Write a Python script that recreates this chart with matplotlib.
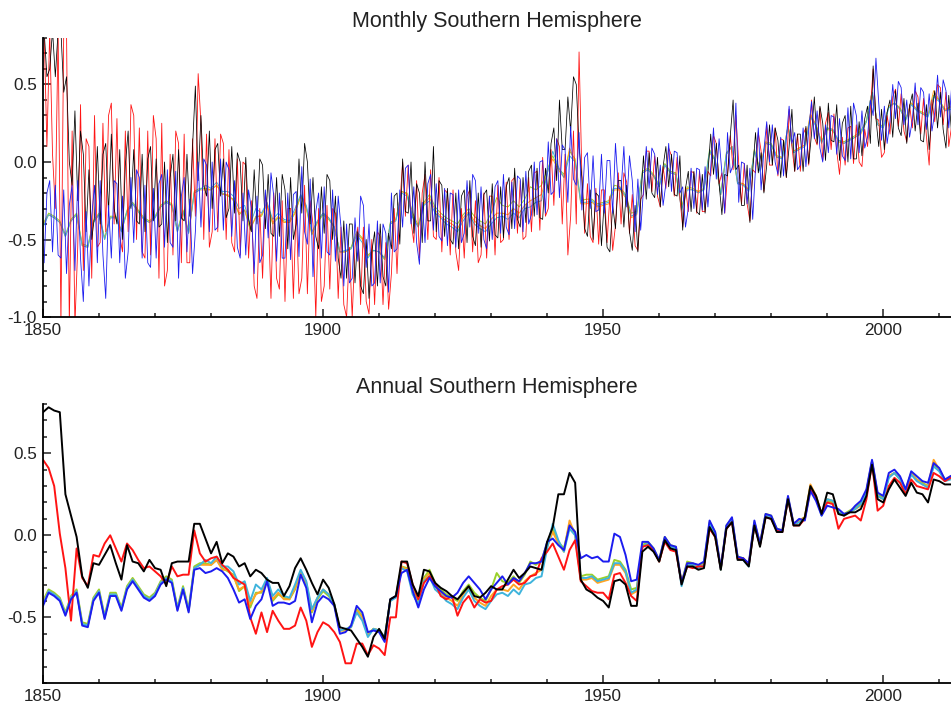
import numpy as np
import matplotlib
matplotlib.use("Agg")
import matplotlib.pyplot as plt
from matplotlib.ticker import MultipleLocator

plt.rcParams['font.family'] = ['Liberation Sans', 'DejaVu Sans']

years = list(range(1850, 2013))

# ---------------- Annual series (bottom panel) ----------------
black_annual = [
    0.75, 0.78, 0.76, 0.75, 0.25, 0.12, -0.01, -0.25, -0.32, -0.17,
    -0.18, -0.12, -0.06, -0.17, -0.27, -0.06, -0.16, -0.17, -0.22, -0.15,
    -0.20, -0.21, -0.31, -0.17, -0.16, -0.16, -0.16, 0.07, 0.07, -0.02,
    -0.11, -0.04, -0.17, -0.11, -0.13, -0.19, -0.17, -0.25, -0.21, -0.23,
    -0.27, -0.29, -0.29, -0.37, -0.31, -0.20, -0.14, -0.21, -0.29, -0.36,
    -0.27, -0.32, -0.42, -0.56, -0.57, -0.58, -0.63, -0.68, -0.74, -0.62,
    -0.57, -0.63, -0.39, -0.37, -0.16, -0.16, -0.30, -0.37, -0.21, -0.22,
    -0.29, -0.32, -0.34, -0.37, -0.39, -0.35, -0.31, -0.37, -0.38, -0.35,
    -0.31, -0.33, -0.33, -0.27, -0.21, -0.26, -0.23, -0.19, -0.20, -0.21,
    -0.04, 0.05, 0.25, 0.25, 0.38, 0.32, -0.27, -0.33, -0.35, -0.38,
    -0.40, -0.44, -0.28, -0.27, -0.30, -0.43, -0.43, -0.10, -0.07, -0.10,
    -0.16, -0.03, -0.08, -0.09, -0.30, -0.19, -0.19, -0.21, -0.20, 0.05,
    -0.01, -0.21, 0.04, 0.08, -0.15, -0.15, -0.19, 0.06, -0.07, 0.11,
    0.10, 0.02, 0.02, 0.22, 0.06, 0.06, 0.11, 0.30, 0.24, 0.13,
    0.26, 0.25, 0.13, 0.12, 0.14, 0.14, 0.16, 0.24, 0.43, 0.22,
    0.20, 0.28, 0.34, 0.29, 0.24, 0.32, 0.26, 0.25, 0.20, 0.34,
    0.33, 0.31, 0.31]

red_annual = [
    0.46, 0.41, 0.30, 0.01, -0.20, -0.52, -0.08, -0.26, -0.31, -0.12,
    -0.13, -0.05, 0.00, -0.08, -0.16, -0.05, -0.09, -0.15, -0.20, -0.19,
    -0.22, -0.25, -0.30, -0.19, -0.25, -0.24, -0.24, 0.03, -0.11, -0.16,
    -0.14, -0.13, -0.18, -0.21, -0.26, -0.28, -0.30, -0.50, -0.60, -0.47,
    -0.59, -0.46, -0.52, -0.57, -0.57, -0.55, -0.44, -0.52, -0.68, -0.59,
    -0.53, -0.55, -0.59, -0.65, -0.78, -0.78, -0.66, -0.66, -0.73, -0.67,
    -0.69, -0.73, -0.50, -0.50, -0.16, -0.17, -0.30, -0.39, -0.29, -0.25,
    -0.29, -0.37, -0.39, -0.37, -0.49, -0.41, -0.37, -0.44, -0.39, -0.41,
    -0.40, -0.33, -0.31, -0.30, -0.27, -0.30, -0.29, -0.25, -0.24, -0.14,
    -0.10, -0.05, -0.13, -0.21, -0.09, -0.03, -0.28, -0.31, -0.34, -0.35,
    -0.35, -0.39, -0.24, -0.23, -0.29, -0.37, -0.40, -0.07, -0.06, -0.09,
    -0.16, -0.04, -0.09, -0.10, -0.29, -0.19, -0.20, -0.19, -0.19, 0.04,
    -0.01, -0.20, 0.04, 0.08, -0.14, -0.14, -0.18, 0.06, -0.06, 0.11,
    0.10, 0.03, 0.02, 0.22, 0.06, 0.06, 0.10, 0.28, 0.23, 0.13,
    0.20, 0.19, 0.04, 0.10, 0.11, 0.12, 0.09, 0.22, 0.44, 0.15,
    0.18, 0.30, 0.35, 0.32, 0.25, 0.34, 0.30, 0.29, 0.28, 0.38,
    0.36, 0.33, 0.35]

blue_annual = [
    -0.43, -0.35, -0.37, -0.40, -0.49, -0.39, -0.35, -0.55, -0.56, -0.40,
    -0.35, -0.51, -0.37, -0.37, -0.46, -0.33, -0.28, -0.33, -0.38, -0.40,
    -0.37, -0.30, -0.27, -0.29, -0.46, -0.33, -0.47, -0.21, -0.20, -0.23,
    -0.22, -0.20, -0.22, -0.26, -0.33, -0.41, -0.39, -0.51, -0.43, -0.39,
    -0.28, -0.43, -0.41, -0.41, -0.42, -0.40, -0.24, -0.32, -0.53, -0.41,
    -0.37, -0.39, -0.43, -0.60, -0.59, -0.55, -0.43, -0.47, -0.59, -0.58,
    -0.59, -0.65, -0.39, -0.37, -0.23, -0.21, -0.34, -0.44, -0.33, -0.26,
    -0.31, -0.34, -0.37, -0.38, -0.35, -0.29, -0.25, -0.29, -0.33, -0.39,
    -0.33, -0.29, -0.25, -0.30, -0.26, -0.28, -0.23, -0.17, -0.17, -0.16,
    -0.04, -0.02, -0.06, -0.09, 0.06, 0.02, -0.14, -0.12, -0.14, -0.13,
    -0.16, -0.16, 0.01, -0.01, -0.12, -0.28, -0.27, -0.04, -0.04, -0.08,
    -0.15, -0.01, -0.06, -0.07, -0.29, -0.17, -0.17, -0.18, -0.16, 0.09,
    0.02, -0.20, 0.06, 0.11, -0.13, -0.14, -0.17, 0.09, -0.05, 0.13,
    0.12, 0.04, 0.03, 0.24, 0.07, 0.10, 0.09, 0.27, 0.21, 0.12,
    0.18, 0.17, 0.16, 0.13, 0.14, 0.18, 0.21, 0.28, 0.46, 0.26,
    0.24, 0.38, 0.40, 0.36, 0.28, 0.39, 0.36, 0.33, 0.32, 0.44,
    0.41, 0.34, 0.36]

cyan_annual = [
    -0.42, -0.34, -0.36, -0.39, -0.48, -0.38, -0.34, -0.54, -0.55, -0.39,
    -0.34, -0.50, -0.36, -0.36, -0.45, -0.32, -0.27, -0.32, -0.37, -0.39,
    -0.36, -0.29, -0.26, -0.28, -0.45, -0.32, -0.46, -0.20, -0.18, -0.15,
    -0.17, -0.13, -0.19, -0.19, -0.22, -0.30, -0.28, -0.40, -0.30, -0.33,
    -0.26, -0.37, -0.33, -0.37, -0.38, -0.30, -0.21, -0.28, -0.45, -0.38,
    -0.33, -0.36, -0.42, -0.58, -0.57, -0.56, -0.47, -0.52, -0.62, -0.57,
    -0.58, -0.62, -0.40, -0.38, -0.20, -0.22, -0.36, -0.42, -0.28, -0.25,
    -0.33, -0.36, -0.40, -0.42, -0.45, -0.38, -0.33, -0.40, -0.43, -0.45,
    -0.40, -0.36, -0.35, -0.37, -0.33, -0.36, -0.30, -0.29, -0.26, -0.25,
    -0.08, 0.07, -0.03, -0.10, 0.04, 0.00, -0.26, -0.26, -0.25, -0.28,
    -0.27, -0.26, -0.17, -0.17, -0.22, -0.35, -0.33, -0.07, -0.05, -0.09,
    -0.16, -0.02, -0.07, -0.08, -0.31, -0.18, -0.18, -0.20, -0.18, 0.07,
    0.01, -0.21, 0.05, 0.10, -0.14, -0.15, -0.19, 0.07, -0.06, 0.12,
    0.11, 0.03, 0.02, 0.23, 0.06, 0.08, 0.10, 0.29, 0.23, 0.12,
    0.22, 0.21, 0.14, 0.12, 0.14, 0.16, 0.19, 0.26, 0.45, 0.24,
    0.22, 0.35, 0.38, 0.34, 0.27, 0.37, 0.33, 0.31, 0.29, 0.42,
    0.39, 0.33, 0.34]

green_annual = [
    -0.40, -0.33, -0.35, -0.38, -0.47, -0.37, -0.33, -0.53, -0.54, -0.38,
    -0.33, -0.49, -0.35, -0.35, -0.44, -0.31, -0.26, -0.31, -0.36, -0.38,
    -0.35, -0.28, -0.25, -0.27, -0.44, -0.31, -0.45, -0.19, -0.17, -0.17,
    -0.18, -0.15, -0.20, -0.22, -0.24, -0.34, -0.31, -0.44, -0.35, -0.35,
    -0.27, -0.40, -0.36, -0.38, -0.39, -0.33, -0.22, -0.30, -0.47, -0.39,
    -0.34, -0.37, -0.42, -0.58, -0.58, -0.55, -0.45, -0.49, -0.60, -0.57,
    -0.58, -0.63, -0.39, -0.37, -0.19, -0.20, -0.33, -0.41, -0.26, -0.21,
    -0.29, -0.33, -0.36, -0.38, -0.40, -0.34, -0.30, -0.35, -0.38, -0.40,
    -0.33, -0.23, -0.28, -0.29, -0.25, -0.29, -0.24, -0.16, -0.18, -0.15,
    -0.05, 0.04, -0.04, -0.08, 0.07, 0.02, -0.25, -0.24, -0.24, -0.27,
    -0.26, -0.25, -0.15, -0.16, -0.21, -0.33, -0.32, -0.06, -0.04, -0.08,
    -0.15, -0.01, -0.06, -0.07, -0.29, -0.16, -0.17, -0.19, -0.17, 0.08,
    0.02, -0.20, 0.06, 0.10, -0.13, -0.14, -0.18, 0.08, -0.05, 0.13,
    0.12, 0.04, 0.03, 0.23, 0.07, 0.09, 0.11, 0.30, 0.24, 0.13,
    0.21, 0.20, 0.14, 0.13, 0.15, 0.17, 0.20, 0.27, 0.45, 0.25,
    0.23, 0.36, 0.38, 0.35, 0.28, 0.38, 0.34, 0.32, 0.30, 0.43,
    0.40, 0.34, 0.35]

orange_annual = [
    -0.41, -0.34, -0.36, -0.39, -0.48, -0.38, -0.34, -0.54, -0.55, -0.39,
    -0.34, -0.50, -0.36, -0.36, -0.45, -0.32, -0.27, -0.32, -0.37, -0.39,
    -0.36, -0.29, -0.26, -0.28, -0.45, -0.32, -0.46, -0.20, -0.18, -0.18,
    -0.18, -0.15, -0.21, -0.21, -0.25, -0.33, -0.31, -0.42, -0.36, -0.34,
    -0.27, -0.39, -0.35, -0.39, -0.39, -0.32, -0.22, -0.29, -0.46, -0.38,
    -0.33, -0.36, -0.42, -0.58, -0.58, -0.56, -0.46, -0.50, -0.61, -0.57,
    -0.58, -0.62, -0.40, -0.37, -0.19, -0.21, -0.35, -0.42, -0.27, -0.23,
    -0.31, -0.35, -0.38, -0.40, -0.43, -0.36, -0.32, -0.38, -0.41, -0.43,
    -0.37, -0.33, -0.33, -0.34, -0.30, -0.33, -0.28, -0.25, -0.23, -0.21,
    -0.07, 0.02, -0.05, -0.10, 0.09, 0.00, -0.27, -0.27, -0.26, -0.29,
    -0.28, -0.27, -0.18, -0.18, -0.23, -0.36, -0.34, -0.07, -0.05, -0.09,
    -0.16, -0.02, -0.07, -0.08, -0.30, -0.17, -0.18, -0.19, -0.18, 0.06,
    0.01, -0.21, 0.05, 0.10, -0.14, -0.14, -0.18, 0.07, -0.05, 0.12,
    0.11, 0.03, 0.03, 0.23, 0.07, 0.09, 0.11, 0.31, 0.24, 0.13,
    0.22, 0.21, 0.13, 0.12, 0.14, 0.16, 0.18, 0.26, 0.45, 0.24,
    0.22, 0.36, 0.38, 0.34, 0.27, 0.38, 0.34, 0.31, 0.30, 0.46,
    0.40, 0.33, 0.36]

# ---------------- Monthly envelope (top panel): yearly high / low ----------------
black_hi = [
    0.85, 0.85, 0.85, 0.85, 0.55, 0.33, 0.20, 0.05, -0.05, 0.10,
    0.05, 0.12, 0.18, 0.08, -0.02, 0.20, 0.08, 0.05, 0.02, 0.10,
    0.02, 0.00, -0.10, 0.05, 0.08, 0.05, 0.10, 0.49, 0.30, 0.20,
    0.08, 0.12, 0.02, 0.10, 0.06, 0.00, 0.03, -0.05, 0.02, -0.02,
    -0.08, -0.10, -0.08, -0.18, -0.10, 0.02, 0.12, 0.00, -0.10, -0.16,
    -0.08, -0.12, -0.22, -0.38, -0.40, -0.40, -0.45, -0.50, -0.58, -0.45,
    -0.40, -0.46, -0.22, -0.20, 0.02, 0.00, -0.14, -0.20, 0.00, 0.10,
    -0.12, -0.15, -0.17, -0.20, -0.22, -0.18, -0.12, -0.20, -0.21, -0.18,
    -0.14, -0.16, -0.16, -0.10, -0.04, -0.10, -0.06, -0.02, -0.04, -0.04,
    0.12, 0.22, 0.40, 0.42, 0.55, 0.50, -0.10, -0.18, -0.20, -0.22,
    -0.25, -0.28, -0.12, -0.12, -0.15, -0.28, -0.26, 0.04, 0.06, 0.03,
    -0.03, 0.10, 0.05, 0.04, -0.17, -0.06, -0.06, -0.08, -0.07, 0.18,
    0.12, -0.08, 0.17, 0.40, -0.02, -0.02, -0.06, 0.19, 0.06, 0.24,
    0.22, 0.14, 0.14, 0.34, 0.18, 0.18, 0.23, 0.42, 0.36, 0.25,
    0.38, 0.37, 0.25, 0.30, 0.36, 0.26, 0.28, 0.36, 0.62, 0.34,
    0.32, 0.40, 0.46, 0.41, 0.36, 0.44, 0.38, 0.37, 0.32, 0.46,
    0.45, 0.43, 0.43]
black_lo = [
    0.55, 0.60, 0.55, 0.45, 0.00, -0.15, -0.25, -0.45, -0.50, -0.35,
    -0.40, -0.33, -0.30, -0.40, -0.50, -0.30, -0.38, -0.40, -0.45, -0.38,
    -0.42, -0.40, -0.52, -0.38, -0.36, -0.38, -0.35, -0.12, -0.15, -0.22,
    -0.30, -0.22, -0.36, -0.30, -0.33, -0.38, -0.37, -0.45, -0.40, -0.43,
    -0.46, -0.48, -0.48, -0.56, -0.50, -0.40, -0.33, -0.40, -0.48, -0.56,
    -0.46, -0.50, -0.62, -0.75, -0.75, -0.78, -0.80, -0.85, -0.88, -0.80,
    -0.74, -0.80, -0.56, -0.53, -0.32, -0.33, -0.46, -0.52, -0.38, -0.38,
    -0.45, -0.48, -0.50, -0.53, -0.56, -0.52, -0.48, -0.54, -0.55, -0.51,
    -0.47, -0.49, -0.49, -0.43, -0.37, -0.42, -0.39, -0.35, -0.36, -0.37,
    -0.20, -0.12, 0.08, 0.08, 0.20, 0.10, -0.43, -0.48, -0.50, -0.54,
    -0.55, -0.58, -0.43, -0.42, -0.45, -0.57, -0.58, -0.24, -0.20, -0.23,
    -0.29, -0.16, -0.21, -0.22, -0.44, -0.32, -0.32, -0.34, -0.33, -0.08,
    -0.14, -0.34, -0.09, -0.05, -0.28, -0.28, -0.39, -0.07, -0.20, -0.02,
    -0.02, -0.10, -0.10, 0.10, -0.06, -0.06, -0.01, 0.18, 0.12, 0.01,
    0.14, 0.13, 0.01, 0.00, 0.02, 0.02, 0.04, 0.12, 0.28, 0.10,
    0.08, 0.16, 0.22, 0.17, 0.12, 0.20, 0.14, 0.13, 0.08, 0.22,
    0.21, 0.09, 0.19]

red_hi = [
    0.85, 0.85, 0.85, 0.85, 0.85, 0.20, 0.37, 0.15, 0.10, 0.30,
    0.25, 0.30, 0.38, 0.28, 0.20, 0.37, 0.30, 0.22, 0.20, 0.30,
    0.15, 0.25, 0.05, 0.20, 0.12, 0.18, 0.15, 0.57, 0.25, 0.18,
    0.15, 0.18, 0.12, 0.08, 0.02, 0.00, -0.02, -0.25, -0.30, -0.20,
    -0.32, -0.20, -0.25, -0.30, -0.30, -0.28, -0.15, -0.25, -0.40, -0.30,
    -0.28, -0.30, -0.33, -0.42, -0.55, -0.55, -0.42, -0.42, -0.50, -0.45,
    -0.48, -0.52, -0.30, -0.28, 0.00, -0.02, -0.12, -0.20, -0.08, -0.05,
    -0.10, -0.18, -0.20, -0.18, -0.30, -0.22, -0.18, -0.25, -0.20, -0.22,
    -0.22, -0.15, -0.13, -0.12, -0.10, -0.12, -0.10, -0.07, -0.06, 0.03,
    0.08, 0.15, 0.10, 0.05, 0.20, 0.71, -0.08, -0.14, -0.17, -0.18,
    -0.18, -0.22, -0.07, -0.07, -0.13, -0.21, -0.24, 0.07, 0.07, 0.04,
    -0.03, 0.09, 0.04, 0.03, -0.16, -0.06, -0.07, -0.06, -0.06, 0.17,
    0.12, -0.07, 0.17, 0.30, -0.01, -0.01, -0.05, 0.19, 0.07, 0.24,
    0.22, 0.15, 0.14, 0.34, 0.18, 0.18, 0.22, 0.40, 0.35, 0.25,
    0.32, 0.31, 0.16, 0.22, 0.23, 0.24, 0.21, 0.34, 0.60, 0.27,
    0.30, 0.42, 0.47, 0.44, 0.37, 0.46, 0.42, 0.41, 0.40, 0.50,
    0.48, 0.45, 0.47]
red_lo = [
    0.10, 0.05, -0.30, -1.05, -1.05, -1.05, -0.55, -0.70, -0.75, -0.55,
    -0.52, -0.45, -0.40, -0.48, -0.58, -0.45, -0.50, -0.58, -0.62, -0.60,
    -0.75, -0.80, -0.70, -0.60, -0.65, -0.65, -0.65, -0.35, -0.50, -0.55,
    -0.45, -0.45, -0.50, -0.52, -0.58, -0.60, -0.62, -0.80, -0.88, -0.75,
    -0.88, -0.75, -0.82, -0.90, -0.88, -0.85, -0.75, -0.85, -1.00, -0.90,
    -0.80, -0.82, -0.88, -0.92, -1.00, -1.00, -0.92, -0.90, -0.98, -0.92,
    -0.92, -0.95, -0.72, -0.72, -0.35, -0.38, -0.52, -0.62, -0.50, -0.48,
    -0.50, -0.58, -0.60, -0.58, -0.70, -0.62, -0.58, -0.65, -0.60, -0.62,
    -0.60, -0.52, -0.50, -0.50, -0.46, -0.50, -0.48, -0.45, -0.44, -0.35,
    -0.30, -0.28, -0.40, -0.60, -0.35, -0.40, -0.46, -0.48, -0.52, -0.53,
    -0.52, -0.57, -0.41, -0.40, -0.46, -0.54, -0.57, -0.21, -0.19, -0.22,
    -0.29, -0.17, -0.22, -0.23, -0.42, -0.32, -0.33, -0.32, -0.32, -0.09,
    -0.14, -0.33, -0.09, -0.05, -0.27, -0.27, -0.38, -0.07, -0.19, -0.02,
    -0.02, -0.09, -0.10, 0.10, -0.06, -0.06, -0.02, 0.16, 0.11, 0.01,
    0.08, 0.07, -0.08, -0.02, -0.01, 0.00, -0.03, 0.10, 0.28, 0.03,
    0.06, 0.18, 0.23, 0.20, 0.13, 0.22, 0.18, 0.17, -0.02, 0.26,
    0.24, 0.10, 0.23]

blue_hi = [
    -0.20, -0.12, -0.15, -0.18, -0.28, -0.15, -0.12, -0.32, -0.35, -0.15,
    -0.12, -0.28, -0.12, -0.14, -0.22, -0.10, -0.05, -0.10, -0.15, -0.17,
    -0.14, -0.08, -0.05, -0.06, -0.22, -0.10, -0.24, 0.00, 0.02, -0.02,
    0.00, 0.02, 0.00, -0.05, -0.12, -0.20, -0.18, -0.30, -0.22, -0.18,
    -0.07, -0.22, -0.20, -0.20, -0.21, -0.19, -0.03, -0.11, -0.32, -0.20,
    -0.16, -0.18, -0.22, -0.42, -0.40, -0.36, -0.22, -0.28, -0.40, -0.38,
    -0.40, -0.46, -0.20, -0.18, -0.04, -0.02, -0.16, -0.26, -0.14, -0.08,
    -0.14, -0.17, -0.20, -0.21, -0.18, -0.12, -0.08, -0.12, -0.16, -0.22,
    -0.16, -0.12, -0.08, -0.13, -0.09, -0.11, -0.06, 0.00, 0.00, 0.01,
    0.13, 0.15, 0.11, 0.08, 0.23, 0.19, 0.03, 0.06, 0.04, 0.05,
    0.01, 0.01, 0.12, 0.10, 0.04, -0.12, -0.11, 0.10, 0.09, 0.05,
    -0.02, 0.12, 0.07, 0.06, -0.16, -0.04, -0.04, -0.05, -0.03, 0.22,
    0.15, -0.07, 0.19, 0.38, 0.00, -0.01, -0.04, 0.22, 0.08, 0.26,
    0.24, 0.16, 0.15, 0.36, 0.19, 0.22, 0.21, 0.39, 0.33, 0.24,
    0.30, 0.29, 0.28, 0.35, 0.38, 0.30, 0.33, 0.40, 0.67, 0.38,
    0.36, 0.50, 0.52, 0.48, 0.40, 0.51, 0.48, 0.45, 0.44, 0.56,
    0.53, 0.46, 0.48]
blue_lo = [
    -0.65, -0.58, -0.60, -0.62, -0.72, -0.70, -0.62, -0.90, -0.80, -0.65,
    -0.60, -0.88, -0.62, -0.65, -0.75, -0.58, -0.52, -0.62, -0.65, -0.68,
    -0.62, -0.55, -0.52, -0.55, -0.75, -0.58, -0.72, -0.45, -0.42, -0.45,
    -0.44, -0.42, -0.44, -0.48, -0.55, -0.62, -0.60, -0.72, -0.65, -0.60,
    -0.49, -0.64, -0.62, -0.62, -0.63, -0.61, -0.45, -0.53, -0.74, -0.62,
    -0.58, -0.60, -0.64, -0.80, -0.78, -0.75, -0.64, -0.68, -0.80, -0.78,
    -0.78, -0.84, -0.58, -0.56, -0.42, -0.40, -0.52, -0.66, -0.52, -0.44,
    -0.48, -0.51, -0.54, -0.55, -0.52, -0.46, -0.42, -0.46, -0.50, -0.56,
    -0.50, -0.46, -0.42, -0.47, -0.43, -0.45, -0.40, -0.34, -0.34, -0.33,
    -0.21, -0.19, -0.23, -0.26, -0.11, -0.15, -0.31, -0.30, -0.32, -0.31,
    -0.33, -0.33, -0.16, -0.18, -0.29, -0.45, -0.44, -0.18, -0.17, -0.21,
    -0.28, -0.14, -0.19, -0.20, -0.42, -0.30, -0.30, -0.31, -0.29, -0.04,
    -0.11, -0.33, -0.07, -0.02, -0.26, -0.27, -0.37, -0.04, -0.18, 0.00,
    0.00, -0.08, -0.09, 0.12, -0.05, -0.02, -0.03, 0.15, 0.09, 0.00,
    0.06, 0.05, 0.04, 0.01, 0.02, 0.06, 0.09, 0.16, 0.30, 0.14,
    0.12, 0.26, 0.28, 0.24, 0.16, 0.27, 0.24, 0.21, 0.20, 0.32,
    0.29, 0.22, 0.24]

# ---------------- styling ----------------
C_BLACK = '#000000'
C_RED = '#ff1414'
C_BLUE = '#1c1cf0'
C_CYAN = '#3fb4dc'
C_GREEN = '#9ad12a'
C_ORANGE = '#ffa424'

W, H = 951, 709
fig = plt.figure(figsize=(W / 100, H / 100), dpi=100)

left = 43 / W
width = 1 - left
ax_top = fig.add_axes([left, 1 - 317 / H, width, (317 - 38) / H])
ax_bot = fig.add_axes([left, 1 - 683 / H, width, (683 - 404) / H])


def envelope(hi, lo, phase):
    """Place each year's high and low as two sub-annual points; the order of the
    pair alternates every other year so the trace is less comb-like."""
    xs, vs = [], []
    for i, (yr, h, l) in enumerate(zip(years, hi, lo)):
        first, second = (h, l) if (i + phase) % 4 < 2 else (l, h)
        xs += [yr + 0.2, yr + 0.7]
        vs += [first, second]
    return xs, vs


# top panel: monthly
for vals, col in [(green_annual, C_GREEN), (orange_annual, C_ORANGE), (cyan_annual, C_CYAN)]:
    ax_top.plot(years, vals, color=col, lw=0.7)
for hi, lo, col, ph, lw in [(red_hi, red_lo, C_RED, 0, 0.6),
                            (black_hi, black_lo, C_BLACK, 1, 0.55),
                            (blue_hi, blue_lo, C_BLUE, 3, 0.6)]:
    xs, vs = envelope(hi, lo, ph)
    ax_top.plot(xs, vs, color=col, lw=lw)

# bottom panel: annual
for vals, col in [(green_annual, C_GREEN), (orange_annual, C_ORANGE), (cyan_annual, C_CYAN),
                  (red_annual, C_RED), (blue_annual, C_BLUE), (black_annual, C_BLACK)]:
    ax_bot.plot(years, vals, color=col, lw=1.4)

for ax, ylim in [(ax_top, (-1.0, 0.8)), (ax_bot, (-0.9, 0.8))]:
    ax.set_xlim(1850, 2012.1)
    ax.set_ylim(*ylim)
    for s in ['top', 'right']:
        ax.spines[s].set_visible(False)
    for s in ['left', 'bottom']:
        ax.spines[s].set_linewidth(1.3)
    ax.xaxis.set_major_locator(MultipleLocator(50))
    ax.xaxis.set_minor_locator(MultipleLocator(10))
    ax.yaxis.set_major_locator(MultipleLocator(0.5))
    ax.yaxis.set_minor_locator(MultipleLocator(0.1))
    ax.tick_params(which='both', direction='in', labelsize=12.3, width=1.1, colors='#222222')
    ax.tick_params(which='major', length=5.5, pad=4.5)
    ax.tick_params(which='minor', length=3)
    ax.yaxis.set_major_formatter(plt.FuncFormatter(lambda v, p: f"{v:.1f}"))

fig.text(497 / W, 1 - 22 / H, 'Monthly Southern Hemisphere', ha='center', va='center',
         fontsize=15.5, color='#222222')
fig.text(497 / W, 1 - 388 / H, 'Annual Southern Hemisphere', ha='center', va='center',
         fontsize=15.5, color='#222222')

fig.savefig('out.png', dpi=100)
